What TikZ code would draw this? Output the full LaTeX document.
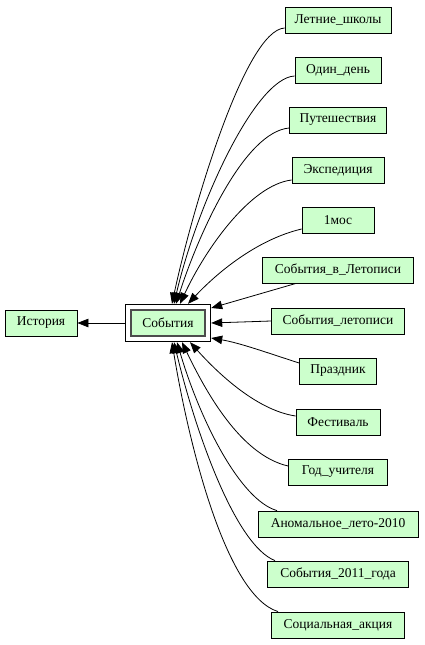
\documentclass[tikz,border=0pt]{standalone}
\usepackage{fontspec}
\setmainfont{Liberation Serif}
\usetikzlibrary{arrows.meta,fit}
\definecolor{nodefill}{HTML}{CCFFCC}

\begin{document}
\begin{tikzpicture}[x=1pt,y=-1pt,font=\fontsize{13.5}{15}\selectfont,
 item/.style={draw=black,fill=nodefill,line width=0.8pt,minimum height=26pt,inner sep=0pt},
 link/.style={-{Triangle[length=11pt,width=8.5pt]},line width=0.8pt}]

\useasboundingbox (0,0) rectangle (424,645);
\node[item,minimum width=72pt] (Hist) at (41,323) {История};
\node[item,minimum width=74pt,draw=black!70,line width=1.6pt] (Ev) at (168,323) {События};
\node[draw=black,line width=0.8pt,inner sep=5pt,fit=(Ev)] (EvBox) {};
\foreach \k/\y/\w/\txt in {1/20/106/Летние\_школы,2/70/86/Один\_день,
  3/120/97/Путешествия,4/170/92/Экспедиция,5/220/72/1мос,
  6/270/151/События\_в\_Летописи,7/321/133/События\_летописи,
  8/371/77/Праздник,9/422/84/Фестиваль,10/472/99/Год\_учителя,
  11/524/160/Аномальное\_лето-2010,12/574/141/События\_2011\_года,
  13/625/133/Социальная\_акция}{
  \node[item,minimum width=\w pt] (E\k) at (338,\y) {\txt};
}
\draw[link] (EvBox.west) -- (Hist.east);
% Upper group comes down onto the top of the framed node, lower group
% climbs onto its bottom; the three middle ones meet its right side.
\draw[link] ([yshift=-8pt]E1.west) .. controls (245,30) and (192,210) .. ([xshift=4pt]EvBox.north);
\draw[link] ([yshift=-6pt]E2.west) .. controls (255,78) and (197,205) .. ([xshift=6pt]EvBox.north);
\draw[link] ([yshift=-8pt]E3.west) .. controls (245,132) and (200,230) .. ([xshift=8pt]EvBox.north);
\draw[link] ([yshift=-10pt]E4.west) .. controls (250,185) and (205,250) .. ([xshift=12pt]EvBox.north);
\draw[link] ([yshift=-9pt]E5.west) .. controls (255,240) and (215,275) .. ([xshift=20pt]EvBox.north);
\draw[link] ([xshift=-42pt]E6.south) -- ([yshift=15pt]EvBox.east);
\draw[link] (E7.west) -- (EvBox.east);
\draw[link] ([yshift=8pt]E8.west) .. controls (265,352) and (240,343) .. ([yshift=-15pt]EvBox.east);
\draw[link] ([yshift=6pt]E9.west) .. controls (255,410) and (215,370) .. ([xshift=22pt]EvBox.south);
\draw[link] ([yshift=6pt]E10.west) .. controls (240,455) and (205,390) .. ([xshift=14pt]EvBox.south);
\draw[link] ([xshift=-61pt]E11.north) .. controls (240,500) and (200,420) .. ([xshift=9pt]EvBox.south);
\draw[link] ([xshift=-63pt]E12.north) .. controls (235,545) and (195,430) .. ([xshift=6pt]EvBox.south);
\draw[link] ([xshift=-60pt]E13.north) .. controls (225,595) and (188,440) .. ([xshift=4pt]EvBox.south);
\end{tikzpicture}
\end{document}
